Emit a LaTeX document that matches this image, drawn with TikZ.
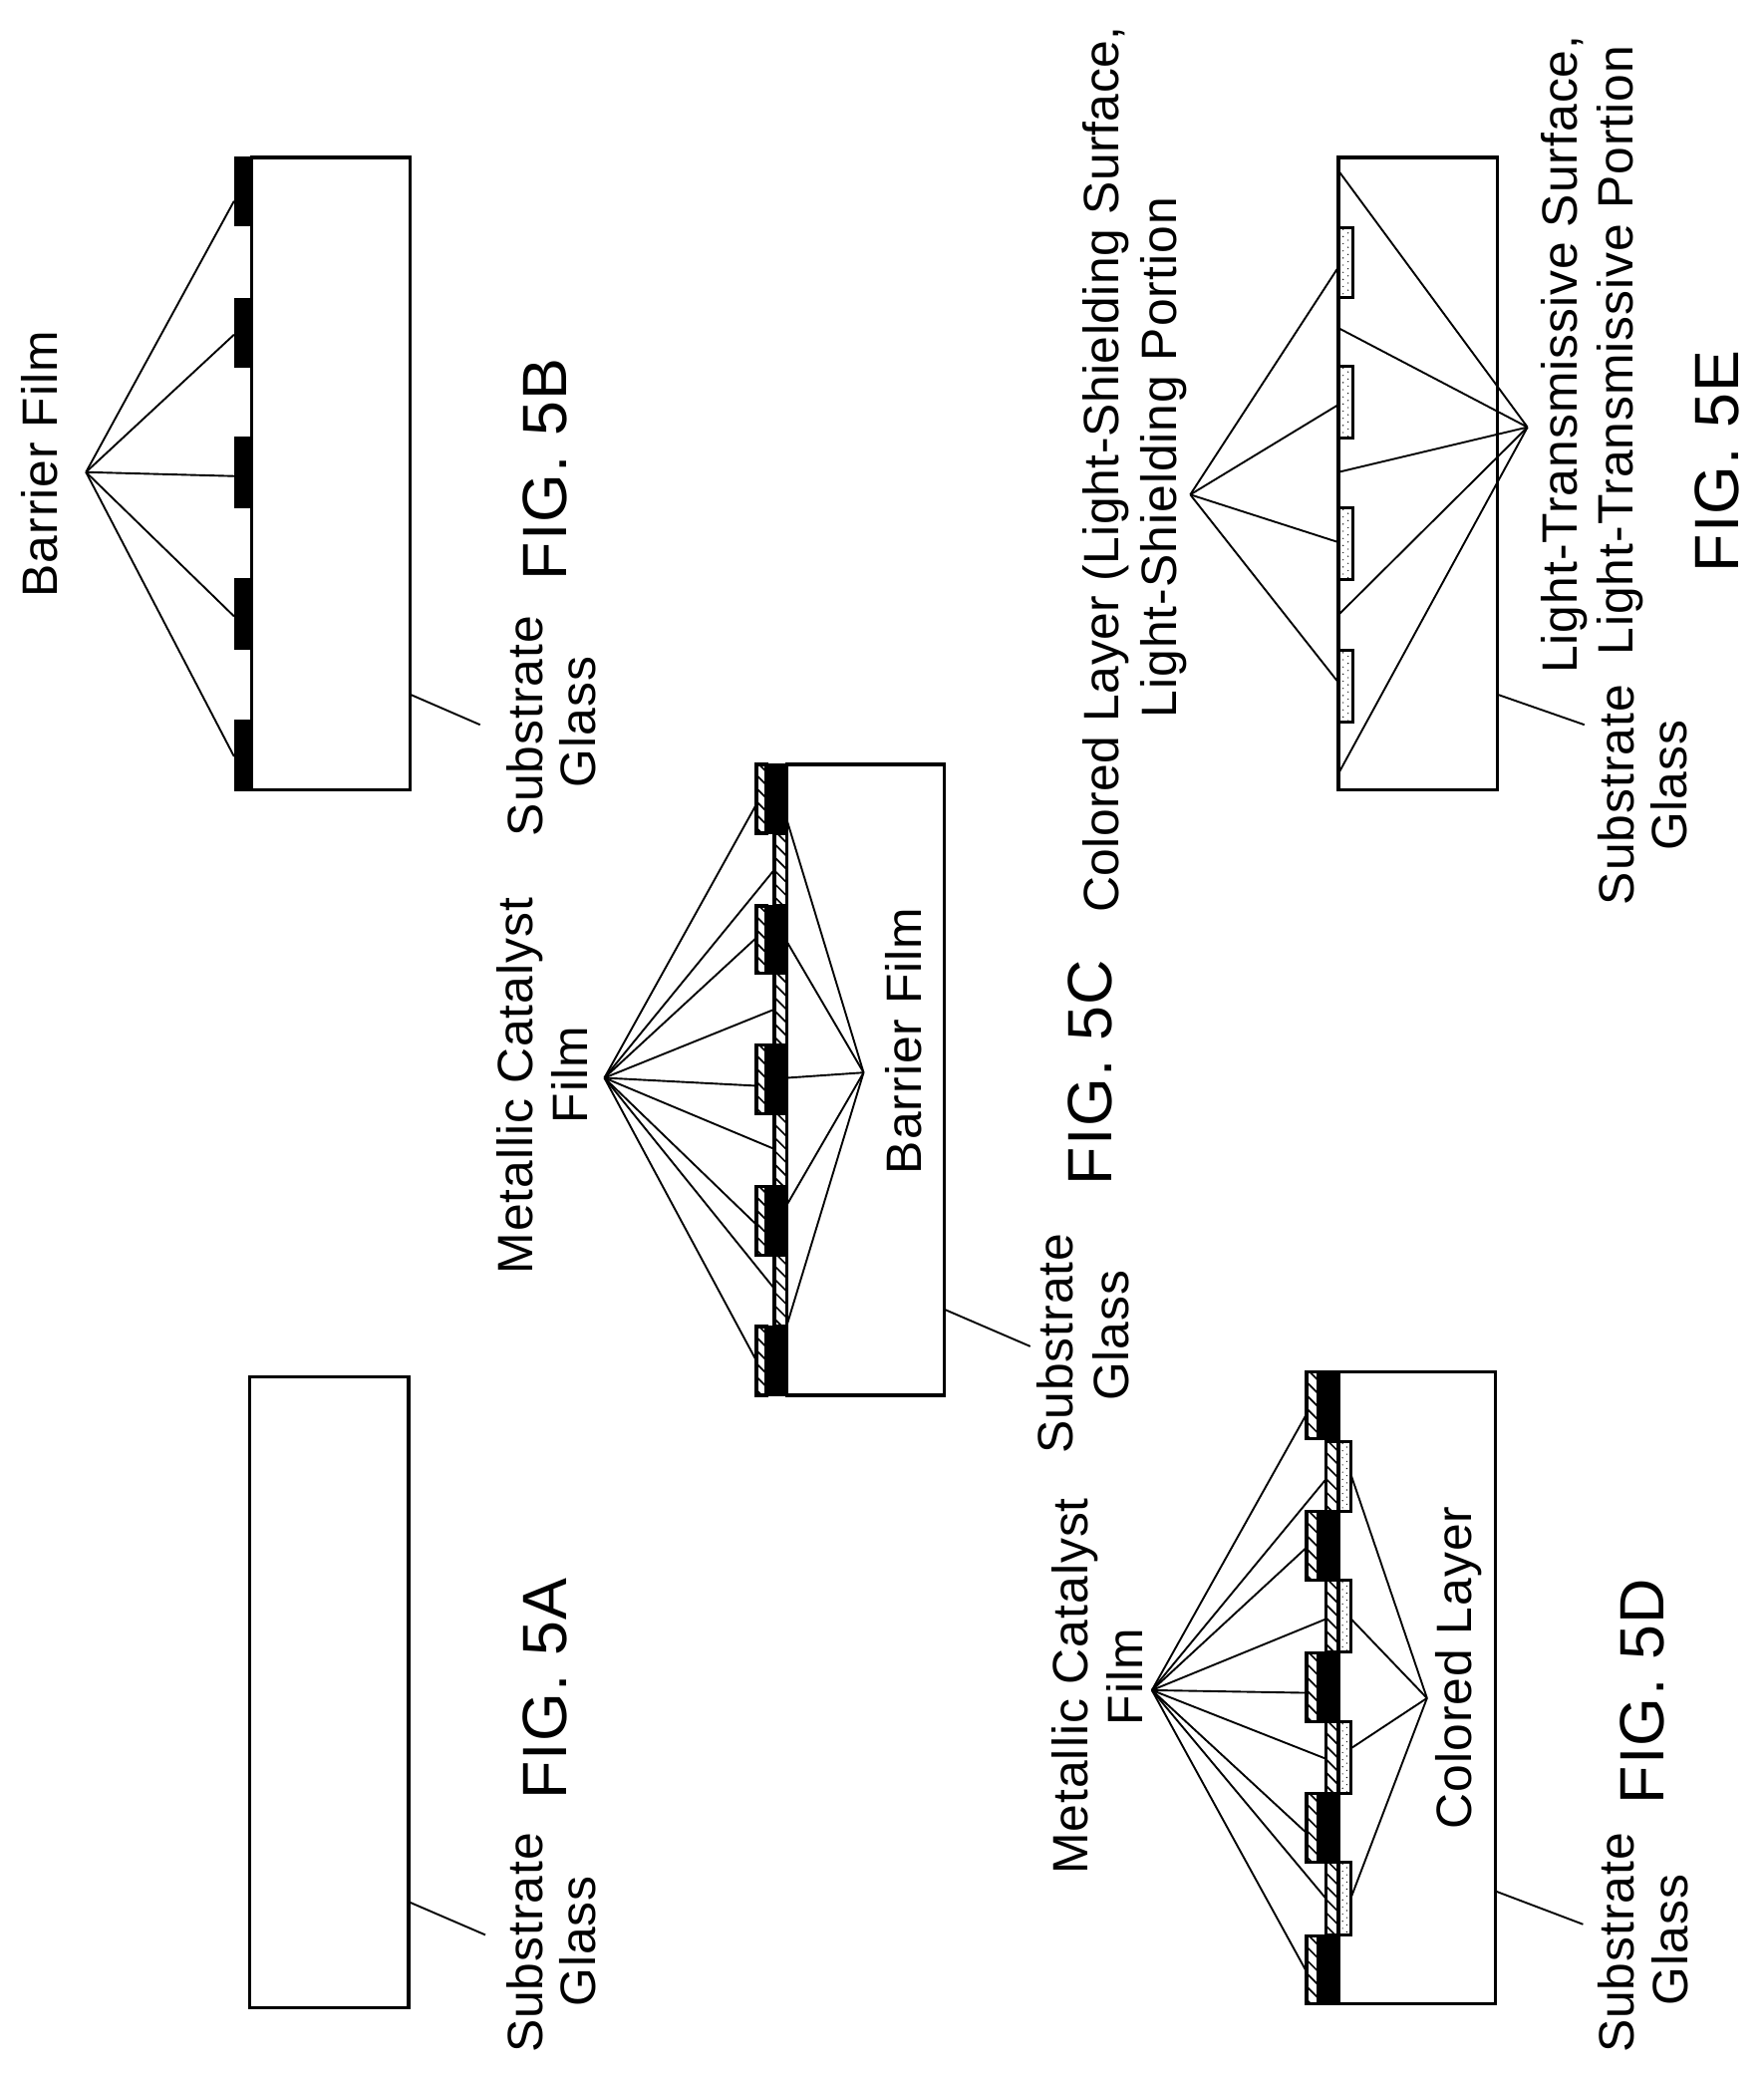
\documentclass[tikz,border=0pt]{standalone}
\usepackage{fontspec}
\setmainfont[LetterSpace=2,WordSpace=1.0]{Liberation Sans}
\newcommand{\hatchrect}[4]{%
  \begin{scope}
    \clip (#1,#2) rectangle (#3,#4);
    \pgfmathsetmacro{\hw}{#3-#1}
    \foreach \hk in {-1,...,6}{
      \pgfmathsetmacro{\hy}{#2+\hk*10-2}
      \pgfmathsetmacro{\hz}{\hy+\hw}
      \draw[hatch] (#1,\hy) -- (#3,\hz);
    }
  \end{scope}
  \draw[edge] (#1,#2) rectangle (#3,#4);
}
\newcommand{\dotrect}[4]{%
  \begin{scope}
    \clip (#1,#2) rectangle (#3,#4);
    \pgfmathsetmacro{\xa}{#1+0.33*(#3-#1)}
    \pgfmathsetmacro{\xb}{#1+0.67*(#3-#1)}
    \foreach \hk in {0,...,10}{
      \pgfmathsetmacro{\hy}{#2+\hk*5.4+1.5}
      \pgfmathsetmacro{\hz}{\hy+2.7}
      \fill (\xa,\hy) circle (0.5);
      \fill (\xb,\hz) circle (0.5);
    }
  \end{scope}
  \draw[edge] (#1,#2) rectangle (#3,#4);
}
\tikzset{
  edge/.style={draw=black,line width=3.2pt},
  hatch/.style={draw=black,line width=1.7pt},
  leader/.style={draw=black,line width=1.9pt},
  lab/.style={rotate=90,inner sep=0pt,font=\fontsize{50}{50}\selectfont},
  figlab/.style={rotate=90,inner sep=0pt,font=\fontsize{63}{63}\selectfont},
  base/.style={draw=black,fill=white,line width=3.2pt}
}
\begin{document}
\begin{tikzpicture}[x=1.327bp,y=-1.327bp]
\useasboundingbox[fill=white] (0,0) rectangle (1333.8,1568.2);

%% FIG 5A
\draw[base] (189,1041) rectangle (309,1518);
\coordinate (a1) at (309,1438); \coordinate (a2) at (367,1463);
\draw[leader] (a1) -- (a2);
\node[lab] (as) at (397,1469) {Substrate};
\node[lab] (ag) at (437,1468) {Glass};
\node[figlab] (af) at (412,1277) {FIG. 5A};

%% FIG 5B
\draw[base] (190,119) rectangle (310,597);
\foreach \a/\b in {119/170,226/277,331/383,438/490,545/597}
  \fill[black] (177,\a-1) rectangle (190,\b+1);
\coordinate (bp) at (65,357);
\foreach \y in {152,253,360,466,572}{
  \coordinate (be) at (177,\y);
  \draw[leader] (bp) -- (be);
}
\coordinate (b1) at (310,525); \coordinate (b2) at (363,548);
\draw[leader] (b1) -- (b2);
\node[lab] (bb) at (30,351) {Barrier Film};
\node[lab] (bs) at (397,549) {Substrate};
\node[lab] (bg) at (437,546) {Glass};
\node[figlab] (bf) at (412,355) {FIG. 5B};

%% FIG 5C
\draw[base] (595,578) rectangle (714,1055);
\foreach \a/\b in {630/685,736/790,842/897,949/1003}
  \hatchrect{585.5}{\a}{595}{\b};
\foreach \a/\b in {578/630,685/736,790/842,897/949,1003/1055}{
  \hatchrect{572}{\a}{579.5}{\b};
  \fill[black] (579.5,\a-1) rectangle (595,\b+1);
}
\coordinate (cl) at (457,815);
\coordinate (cr) at (653,811);
\foreach \x/\y in {572/608,586/657,572/709,586/763,572/821,586/869,572/926,586/975,572/1029}{
  \coordinate (ce) at (\x,\y);
  \draw[leader] (cl) -- (ce);
}
\foreach \y in {620,712,815,911,1002}{
  \coordinate (ce) at (595,\y);
  \draw[leader] (cr) -- (ce);
}
\coordinate (c1) at (714,990); \coordinate (c2) at (779,1018);
\draw[leader] (c1) -- (c2);
\node[lab] (cm) at (393,821) {Metallic Catalyst};
\node[lab] (cf) at (431,813) {Film};
\node[lab] (cb) at (683,787) {Barrier Film};
\node[figlab] (cg) at (824,811) {FIG. 5C};
\node[lab] (cs) at (798,1016) {Substrate};
\node[lab] (cq) at (840,1010) {Glass};

%% FIG 5D
\draw[base] (1012,1037) rectangle (1131,1515);
\foreach \a/\b in {1090/1143,1195/1249,1302/1356,1408/1463}{
  \dotrect{1012}{\a}{1021.5}{\b};
  \hatchrect{1002.5}{\a}{1012}{\b};
}
\foreach \a/\b in {1037/1088,1143/1195,1250/1302,1356/1408,1464/1515}{
  \hatchrect{988}{\a}{997}{\b};
  \fill[black] (997,\a-1) rectangle (1012,\b+1);
}
\coordinate (dl) at (871,1278);
\coordinate (dr) at (1079,1284);
\foreach \x/\y in {988/1069,1003/1118,988/1170,1003/1224,988/1280,1003/1330,988/1386,1003/1436,988/1491}{
  \coordinate (de) at (\x,\y);
  \draw[leader] (dl) -- (de);
}
\foreach \y in {1115,1224,1322,1435}{
  \coordinate (de) at (1021.5,\y);
  \draw[leader] (dr) -- (de);
}
\coordinate (d1) at (1131,1430); \coordinate (d2) at (1197,1455);
\draw[leader] (d1) -- (d2);
\node[lab] (dm) at (813,1275) {Metallic Catalyst};
\node[lab] (df) at (850,1268) {Film};
\node[lab] (dc) at (1103,1261) {Colored Layer};
\node[figlab] (dg) at (1242,1279) {FIG. 5D};
\node[lab] (ds) at (1222,1469) {Substrate};
\node[lab] (dq) at (1263,1467) {Glass};

%% FIG 5E
\draw[base] (1012,119) rectangle (1132,597);
\foreach \a/\b in {172/225,277/331,384/438,492/546}
  \dotrect{1012}{\a}{1023}{\b};
\coordinate (el) at (900,374);
\coordinate (er) at (1155,323);
\foreach \y in {202,306,410,516}{
  \coordinate (ee) at (1012,\y);
  \draw[leader] (el) -- (ee);
}
\foreach \y in {129,248,357,465,585}{
  \coordinate (ee) at (1012,\y);
  \draw[leader] (er) -- (ee);
}
\coordinate (e1) at (1132,525); \coordinate (e2) at (1198,548);
\draw[leader] (e1) -- (e2);
\node[lab] (ec) at (836,355) {\addfontfeature{LetterSpace=1}Colored Layer (Light-Shielding Surface,};
\node[lab] (ed) at (880,346) {Light-Shielding Portion};
\node[lab] (et) at (1183,268) {Light-Transmissive Surface,};
\node[lab] (eu) at (1225,265) {Light-Transmissive Portion};
\node[lab] (es) at (1222,601) {Substrate};
\node[lab] (eg) at (1262,594) {Glass};
\node[figlab] (ef) at (1298,349) {FIG. 5E};
\end{tikzpicture}
\end{document}
